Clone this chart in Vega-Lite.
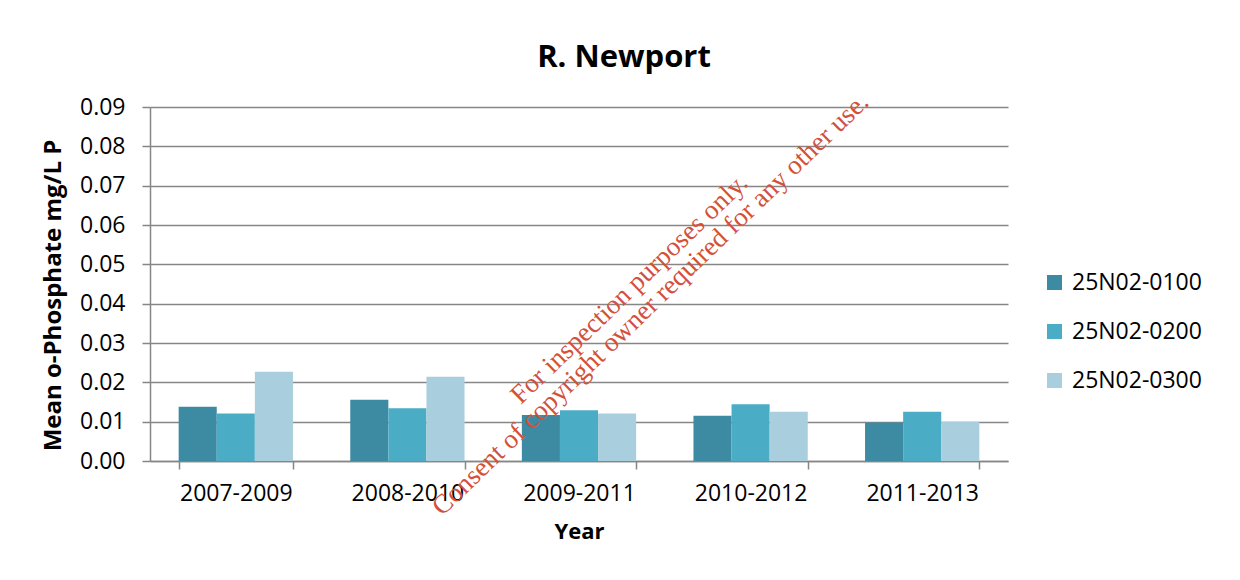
{
  "$schema": "https://vega.github.io/schema/vega-lite/v6.json",
  "autosize": "none",
  "width": 858,
  "height": 354,
  "padding": {"left": 150, "top": 107, "right": 232, "bottom": 119},
  "background": "white",
  "title": {
    "text": "R. Newport",
    "anchor": "middle",
    "frame": "group",
    "dx": 45,
    "offset": -10,
    "baseline": "alphabetic",
    "font": "Open Sans",
    "fontSize": 31,
    "fontWeight": "bold",
    "color": "#000000"
  },
  "datasets": {
    "bars": [
      {"period": "2007-2009", "station": "25N02-0100", "value": 0.0138},
      {"period": "2007-2009", "station": "25N02-0200", "value": 0.0121},
      {"period": "2007-2009", "station": "25N02-0300", "value": 0.0227},
      {"period": "2008-2010", "station": "25N02-0100", "value": 0.0156},
      {"period": "2008-2010", "station": "25N02-0200", "value": 0.0134},
      {"period": "2008-2010", "station": "25N02-0300", "value": 0.0214},
      {"period": "2009-2011", "station": "25N02-0100", "value": 0.0117},
      {"period": "2009-2011", "station": "25N02-0200", "value": 0.0129},
      {"period": "2009-2011", "station": "25N02-0300", "value": 0.0121},
      {"period": "2010-2012", "station": "25N02-0100", "value": 0.0115},
      {"period": "2010-2012", "station": "25N02-0200", "value": 0.0144},
      {"period": "2010-2012", "station": "25N02-0300", "value": 0.0125},
      {"period": "2011-2013", "station": "25N02-0100", "value": 0.0098},
      {"period": "2011-2013", "station": "25N02-0200", "value": 0.0125},
      {"period": "2011-2013", "station": "25N02-0300", "value": 0.0100}
    ],
    "watermark1": [
      {"period": "2009-2011", "value": 0.0433, "label": "For inspection purposes only."}
    ],
    "watermark2": [
      {"period": "2009-2011", "value": 0.0394, "label": "Consent of copyright owner required for any other use."}
    ]
  },
  "encoding": {
    "x": {
      "field": "period",
      "type": "nominal",
      "sort": null,
      "scale": {"paddingInner": 0.334, "paddingOuter": 0.167},
      "axis": {
        "title": "Year",
        "labelAngle": 0,
        "grid": false,
        "tickBand": "extent",
        "tickSize": 8,
        "tickColor": "#868686",
        "tickWidth": 1.5,
        "domainColor": "#868686",
        "domainWidth": 1.5,
        "labelPadding": 13,
        "labelFont": "Open Sans",
        "labelFontSize": 23,
        "labelColor": "#000000",
        "titleFont": "Open Sans",
        "titleFontSize": 22,
        "titleFontWeight": "bold",
        "titleColor": "#000000",
        "titlePadding": 16
      }
    },
    "y": {
      "field": "value",
      "type": "quantitative",
      "scale": {"domain": [0, 0.09], "nice": false},
      "axis": {
        "title": "Mean o-Phosphate mg/L P",
        "values": [0, 0.01, 0.02, 0.03, 0.04, 0.05, 0.06, 0.07, 0.08, 0.09],
        "format": ".2f",
        "labelOverlap": false,
        "grid": true,
        "gridColor": "#868686",
        "gridWidth": 1.5,
        "gridOpacity": 1,
        "tickSize": 8,
        "tickColor": "#868686",
        "tickWidth": 1.5,
        "domainColor": "#868686",
        "domainWidth": 1.5,
        "labelPadding": 17,
        "labelFont": "Open Sans",
        "labelFontSize": 23,
        "labelColor": "#000000",
        "titleFont": "Open Sans",
        "titleFontSize": 24,
        "titleFontWeight": "bold",
        "titleColor": "#000000",
        "titlePadding": 14,
        "titleY": 188,
        "titleAlign": "center"
      }
    }
  },
  "layer": [
    {
      "data": {"name": "bars"},
      "mark": {"type": "bar"},
      "encoding": {
        "xOffset": {"field": "station", "type": "nominal", "scale": {"paddingInner": 0, "paddingOuter": 0}},
        "color": {
          "field": "station",
          "type": "nominal",
          "scale": {
            "domain": ["25N02-0100", "25N02-0200", "25N02-0300"],
            "range": ["#3D8BA3", "#4BACC6", "#A9CEDD"]
          },
          "legend": {
            "title": null,
            "orient": "none",
            "legendX": 893,
            "legendY": 164,
            "symbolType": "square",
            "symbolSize": 225,
            "symbolStrokeWidth": 0,
            "rowPadding": 25,
            "labelFont": "Open Sans",
            "labelFontSize": 23,
            "labelColor": "#000000",
            "labelOffset": 6
          }
        }
      }
    },
    {
      "data": {"name": "watermark1"},
      "mark": {
        "type": "text",
        "angle": -44,
        "align": "center",
        "baseline": "alphabetic",
        "dx": 37.4,
        "dy": 42,
        "font": "Liberation Serif",
        "fontSize": 27,
        "color": "#D4503A"
      },
      "encoding": {
        "text": {"field": "label", "type": "nominal"}
      }
    },
    {
      "data": {"name": "watermark2"},
      "mark": {
        "type": "text",
        "angle": -44,
        "align": "center",
        "baseline": "alphabetic",
        "dx": 52.5,
        "dy": 56.7,
        "font": "Liberation Serif",
        "fontSize": 27,
        "color": "#D4503A"
      },
      "encoding": {
        "text": {"field": "label", "type": "nominal"}
      }
    }
  ],
  "config": {
    "view": {"stroke": null}
  }
}
